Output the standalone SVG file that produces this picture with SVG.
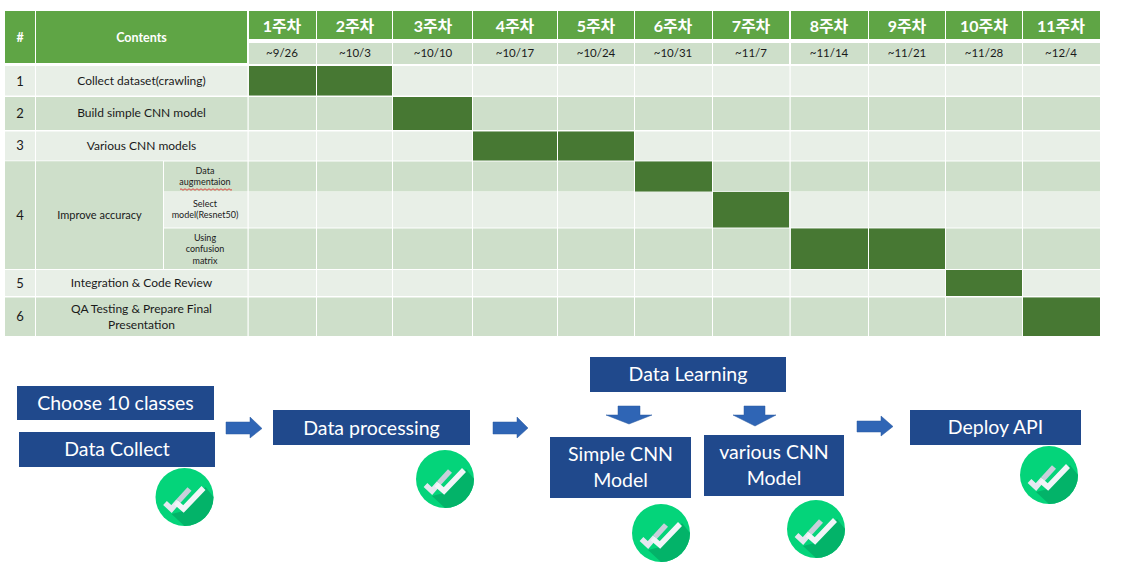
<svg xmlns="http://www.w3.org/2000/svg" width="1132" height="565" viewBox="0 0 1132 565">
<style>
text{font-family:"Lato","Noto Sans CJK KR",sans-serif;text-anchor:middle}
.h{fill:#5fa545}.l{fill:#e8efe7}.d{fill:#cedfca}.b{fill:#477833}
.t{font-size:12px;fill:#1a1a1a}.n{font-size:13px;fill:#1a1a1a}.s{font-size:9px;fill:#1a1a1a}
.hw{font-size:16px;font-weight:700;fill:#fff}.hc{font-size:12.500px;font-weight:700;fill:#fff}
.dt{font-size:11.500px;fill:#1a1a1a}
.box{fill:#20498c}.bt{font-size:19.500px;fill:#fff}
.ar{fill:#2f65b5;stroke:#2a5aa0;stroke-width:.5}
</style>
<defs>
<g id="chk">
<circle r="29" fill="#04d47a"/>
<path d="M-13 17 L0 29 A29 29 0 0 0 29 0 L21-10 L-1 14Z" fill="#03b369"/>
<path d="M-19.500 6 L-13 12 L-6 4" fill="none" stroke="#e4e8f0" stroke-width="5.500"/>
<path d="M-6 4 L5-8" fill="none" stroke="#c8cfdb" stroke-width="5.500"/>
<path d="M-8.500 5.500 L-1 12 L19-9" fill="none" stroke="#f2f5f8" stroke-width="5.500"/>
</g>
</defs>
<g id="gantt-header">
<rect class="h" x="5" y="11" width="30" height="52"/>
<rect class="h" x="36" y="11" width="211" height="52"/>
<text class="hc" x="20" y="42">#</text>
<text class="hc" x="141.500" y="42">Contents</text>
<rect class="h" x="249" y="11" width="67" height="28"/><text class="hw" x="282" y="32">1주차</text>
<rect class="h" x="317" y="11" width="75" height="28"/><text class="hw" x="355" y="32">2주차</text>
<rect class="h" x="393" y="11" width="79" height="28"/><text class="hw" x="433" y="32">3주차</text>
<rect class="h" x="473" y="11" width="84" height="28"/><text class="hw" x="515" y="32">4주차</text>
<rect class="h" x="558" y="11" width="76" height="28"/><text class="hw" x="596" y="32">5주차</text>
<rect class="h" x="635" y="11" width="77" height="28"/><text class="hw" x="673" y="32">6주차</text>
<rect class="h" x="713" y="11" width="76" height="28"/><text class="hw" x="751" y="32">7주차</text>
<rect class="h" x="791" y="11" width="77" height="28"/><text class="hw" x="829" y="32">8주차</text>
<rect class="h" x="869" y="11" width="76" height="28"/><text class="hw" x="907" y="32">9주차</text>
<rect class="h" x="946" y="11" width="76" height="28"/><text class="hw" x="984" y="32">10주차</text>
<rect class="h" x="1023" y="11" width="77" height="28"/><text class="hw" x="1061" y="32">11주차</text>
<rect class="d" x="249" y="43" width="67" height="21"/><text class="dt" x="282" y="57">~9/26</text>
<rect class="d" x="317" y="43" width="75" height="21"/><text class="dt" x="355" y="57">~10/3</text>
<rect class="d" x="393" y="43" width="79" height="21"/><text class="dt" x="433" y="57">~10/10</text>
<rect class="d" x="473" y="43" width="84" height="21"/><text class="dt" x="515" y="57">~10/17</text>
<rect class="d" x="558" y="43" width="76" height="21"/><text class="dt" x="596" y="57">~10/24</text>
<rect class="d" x="635" y="43" width="77" height="21"/><text class="dt" x="673" y="57">~10/31</text>
<rect class="d" x="713" y="43" width="76" height="21"/><text class="dt" x="751" y="57">~11/7</text>
<rect class="d" x="791" y="43" width="77" height="21"/><text class="dt" x="829" y="57">~11/14</text>
<rect class="d" x="869" y="43" width="76" height="21"/><text class="dt" x="907" y="57">~11/21</text>
<rect class="d" x="946" y="43" width="76" height="21"/><text class="dt" x="984" y="57">~11/28</text>
<rect class="d" x="1023" y="43" width="77" height="21"/><text class="dt" x="1061" y="57">~12/4</text>
</g>
<g id="gantt-rows">
<rect class="l" x="5" y="66" width="1095" height="29.500"/>
<rect class="d" x="5" y="97" width="1095" height="33"/>
<rect class="l" x="5" y="131.500" width="1095" height="29"/>
<rect class="d" x="5" y="161.500" width="1095" height="30"/>
<rect class="d" x="5" y="161.500" width="158" height="107.500"/>
<rect class="l" x="164" y="192" width="936" height="35.500"/>
<rect class="d" x="163" y="228.500" width="937" height="40.500"/>
<rect class="l" x="5" y="270" width="1095" height="26"/>
<rect class="d" x="5" y="297.500" width="1095" height="38.500"/>
<g fill="#fff">
<rect x="35" y="66" width="1" height="270"/><rect x="163" y="161" width="1" height="108"/>
<rect x="247.500" y="65" width="1.200" height="271"/><rect x="316" y="65" width="1" height="271"/><rect x="392" y="65" width="1" height="271"/><rect x="472" y="65" width="1" height="271"/><rect x="557" y="65" width="1" height="271"/><rect x="634" y="65" width="1" height="271"/><rect x="712" y="65" width="1" height="271"/><rect x="789.500" y="65" width="1.200" height="271"/><rect x="868" y="65" width="1" height="271"/><rect x="945" y="65" width="1" height="271"/><rect x="1022" y="65" width="1" height="271"/>
</g>
<rect class="b" x="249" y="66" width="67" height="29.500"/><rect class="b" x="317" y="66" width="75" height="29.500"/>
<rect class="b" x="393" y="97" width="79" height="33"/>
<rect class="b" x="473" y="131.500" width="84" height="29"/><rect class="b" x="558" y="131.500" width="76" height="29"/>
<rect class="b" x="635" y="161.500" width="77" height="30"/>
<rect class="b" x="713" y="192" width="76" height="35.500"/>
<rect class="b" x="791" y="228.500" width="77" height="40.500"/><rect class="b" x="869" y="228.500" width="76" height="40.500"/>
<rect class="b" x="946" y="270" width="76" height="26"/>
<rect class="b" x="1023" y="297.500" width="77" height="38.500"/>
<text class="n" x="20" y="86">1</text><text class="t" x="141.500" y="85">Collect dataset(crawling)</text>
<text class="n" x="20" y="118">2</text><text class="t" x="141.500" y="117">Build simple CNN model</text>
<text class="n" x="20" y="150">3</text><text class="t" x="141.500" y="150">Various CNN models</text>
<text class="n" x="20" y="220">4</text><text class="t" style="font-size:11px" x="99.500" y="219">Improve accuracy</text>
<text class="s" x="205" y="174">Data</text><text class="s" x="205" y="185">augmentaion</text>
<path d="M180 189.500q1-1.500 2 0t2 0 2 0 2 0 2 0 2 0 2 0 2 0 2 0 2 0 2 0 2 0 2 0 2 0 2 0 2 0 2 0 2 0 2 0 2 0 2 0 2 0 2 0 2 0 2 0 2 0" fill="none" stroke="#e03030" stroke-width=".9"/>
<text class="s" x="205" y="207">Select</text><text class="s" x="205" y="218">model(Resnet50)</text>
<text class="s" x="205" y="241">Using</text><text class="s" x="205" y="252">confusion</text><text class="s" x="205" y="264">matrix</text>
<text class="n" x="20" y="288">5</text><text class="t" x="141.500" y="287">Integration &amp; Code Review</text>
<text class="n" x="20" y="321">6</text><text class="t" x="141.500" y="313">QA Testing &amp; Prepare Final</text><text class="t" x="141.500" y="329">Presentation</text>
</g>
<g id="connectors">
<path class="ar" d="M226 422H250V417L262 428.500 250 438V434H226Z"/>
<path class="ar" d="M493 422H517V417L528 428 517 438V434H493Z"/>
<path class="ar" d="M857 421H881V416L893 426.500 881 436V432H857Z"/>
<path class="ar" d="M618 406H640V415H652L629 424 606 415H618Z"/>
<path class="ar" d="M744 406H765V415H776L755 426 733 415H744Z"/>
</g>
<g id="n-choose"><rect class="box" x="17" y="386" width="197" height="34"/><text class="bt" x="115.500" y="410">Choose 10 classes</text></g>
<g id="n-collect"><rect class="box" x="19" y="432" width="196" height="35"/><text class="bt" x="117" y="456">Data Collect</text></g>
<g id="n-processing"><rect class="box" x="273" y="410" width="197" height="35"/><text class="bt" x="371.500" y="435">Data processing</text></g>
<g id="n-learning"><rect class="box" x="590" y="357" width="196" height="35"/><text class="bt" x="688" y="381">Data Learning</text></g>
<g id="n-simple"><rect class="box" x="550" y="437" width="141" height="61"/><text class="bt" x="620.500" y="461">Simple CNN</text><text class="bt" x="620.500" y="487">Model</text></g>
<g id="n-various"><rect class="box" x="704" y="435" width="140" height="61"/><text class="bt" x="774" y="459">various CNN</text><text class="bt" x="774" y="485">Model</text></g>
<g id="n-deploy"><rect class="box" x="910" y="410" width="171" height="35"/><text class="bt" x="995.500" y="434">Deploy API</text></g>
<g id="checks">
<use href="#chk" x="184.500" y="497"/><use href="#chk" x="445" y="479"/><use href="#chk" x="661" y="533"/><use href="#chk" x="816" y="529"/><use href="#chk" x="1049" y="475"/>
</g>
</svg>
